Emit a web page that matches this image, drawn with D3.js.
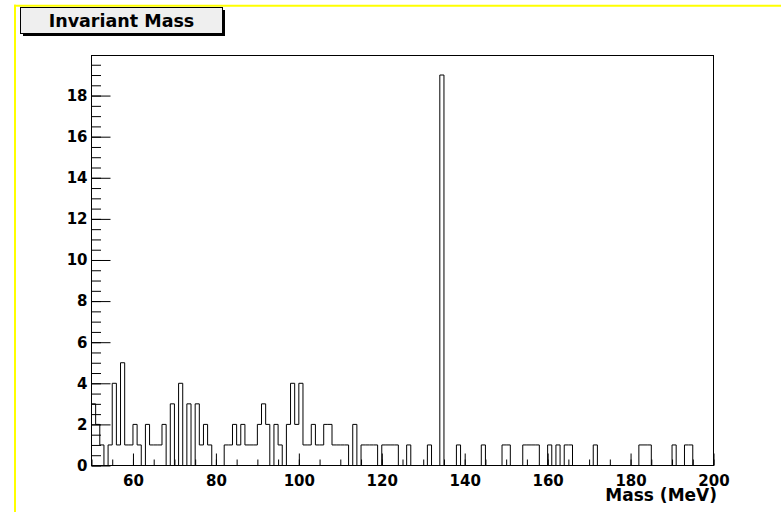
<!DOCTYPE html>
<html>
<head>
<meta charset="utf-8">
<script src="https://cdn.jsdelivr.net/npm/d3@7"></script>
<style>
  body { margin: 0; background: #fff; }
  svg { display: block; }
</style>
</head>
<body>
<script>
// histogram contents, 1 MeV bins from 50 to 200 MeV
const binLow = 50;
const binWidth = 1;
const counts = [
  3, 2, 1, 0, 1, 4, 1, 5, 1, 1,   // 50-59
  2, 1, 0, 2, 1, 1, 1, 2, 0, 3,   // 60-69
  0, 4, 0, 3, 0, 3, 1, 2, 1, 0,   // 70-79
  0, 0, 1, 1, 2, 1, 2, 1, 1, 1,   // 80-89
  2, 3, 2, 0, 2, 1, 0, 2, 4, 2,   // 90-99
  4, 1, 1, 2, 1, 1, 2, 2, 1, 1,   // 100-109
  1, 1, 0, 2, 0, 1, 1, 1, 1, 0,   // 110-119
  1, 1, 1, 1, 0, 0, 1, 0, 0, 0,   // 120-129
  0, 1, 0, 0, 19, 0, 0, 0, 1, 0,  // 130-139
  0, 0, 0, 0, 1, 0, 0, 0, 0, 1,   // 140-149
  1, 0, 0, 0, 1, 1, 1, 1, 0, 0,   // 150-159
  1, 0, 1, 0, 1, 1, 0, 0, 0, 0,   // 160-169
  0, 1, 0, 0, 0, 0, 0, 0, 0, 0,   // 170-179
  0, 0, 1, 1, 1, 0, 0, 0, 0, 0,   // 180-189
  1, 0, 0, 1, 1, 0, 0, 0, 0, 0    // 190-199
];
const xLabels = [60, 80, 100, 120, 140, 160, 180, 200];
const xMinor = d3.range(50, 201, 5);
const yLabels = [0, 2, 4, 6, 8, 10, 12, 14, 16, 18];
const yMinor = d3.range(0, 19.6, 0.5);
const title = "Invariant Mass";
const xTitle = "Mass (MeV)";

let width = 781, height = 512;
let font = "'DejaVu Sans', sans-serif";

let xmax = binLow + counts.length * binWidth;
let ymax = d3.max(counts) * 1.05;

let x = d3.scaleLinear([binLow, xmax], [91.5, 713.5]);
let y = d3.scaleLinear([0, ymax], [465.5, 55.5]);

const svg = d3.select("body")
  .append("svg")
  .attr("width", width)
  .attr("height", height)
  .style("background", "#fff");

// yellow canvas border (only top and left are in view)
svg.append("line")
  .attr("x1", 14).attr("x2", width)
  .attr("y1", 5.7).attr("y2", 5.7)
  .attr("stroke", "#ffff00").attr("stroke-width", 2);
svg.append("line")
  .attr("x1", 15).attr("x2", 15)
  .attr("y1", 4.7).attr("y2", height)
  .attr("stroke", "#ffff00").attr("stroke-width", 2);

// histogram outline
let pts = [{ x: binLow, y: 0 }];
counts.forEach((c, i) => pts.push({ x: binLow + i * binWidth, y: c }));
pts.push({ x: xmax, y: 0 });

let line = d3.line()
  .x((d) => x(d.x))
  .y((d) => y(d.y))
  .curve(d3.curveStepAfter);

svg.append("path")
  .datum(pts)
  .attr("d", line)
  .attr("fill", "none")
  .attr("stroke", "#000")
  .attr("stroke-width", 1);

// axes: ticks point into the frame
let ax = svg.append("g").attr("transform", `translate(0,465.5)`);
ax.call(d3.axisBottom(x).tickValues(xMinor).tickSizeInner(-6).tickSizeOuter(0).tickFormat(""));
ax.append("g").call(
  d3.axisBottom(x).tickValues(xLabels).tickSizeInner(-12).tickSizeOuter(0).tickPadding(10)
);

let ay = svg.append("g").attr("transform", `translate(91.5,0)`);
ay.call(d3.axisLeft(y).tickValues(yMinor).tickSizeInner(-9.5).tickSizeOuter(0).tickFormat(""));
ay.append("g").call(
  d3.axisLeft(y).tickValues(yLabels).tickSizeInner(-19).tickSizeOuter(0).tickPadding(4)
);

svg.selectAll(".domain").remove();
svg.selectAll(".tick line").attr("stroke", "#000");
svg.selectAll(".tick text")
  .attr("fill", "#000")
  .style("font-family", font)
  .style("font-weight", "bold")
  .style("font-size", "15px");

// frame
svg.append("rect")
  .attr("x", 91.5).attr("y", 55.5)
  .attr("width", 622).attr("height", 410)
  .attr("fill", "none")
  .attr("stroke", "#000");

// x axis title
svg.append("text")
  .attr("x", 717).attr("y", 501)
  .attr("text-anchor", "end")
  .style("font-family", font)
  .style("font-weight", "bold")
  .style("font-size", "17px")
  .text(xTitle);

// title pave with shadow
svg.append("rect")
  .attr("x", 23).attr("y", 10)
  .attr("width", 202).attr("height", 26)
  .attr("fill", "#000");
svg.append("rect")
  .attr("x", 20.5).attr("y", 7.5)
  .attr("width", 202).attr("height", 26)
  .attr("fill", "#efefef")
  .attr("stroke", "#000");
svg.append("text")
  .attr("x", 121.5).attr("y", 26.5)
  .attr("text-anchor", "middle")
  .style("font-family", font)
  .style("font-weight", "bold")
  .style("font-size", "17.5px")
  .text(title);
</script>
</body>
</html>
